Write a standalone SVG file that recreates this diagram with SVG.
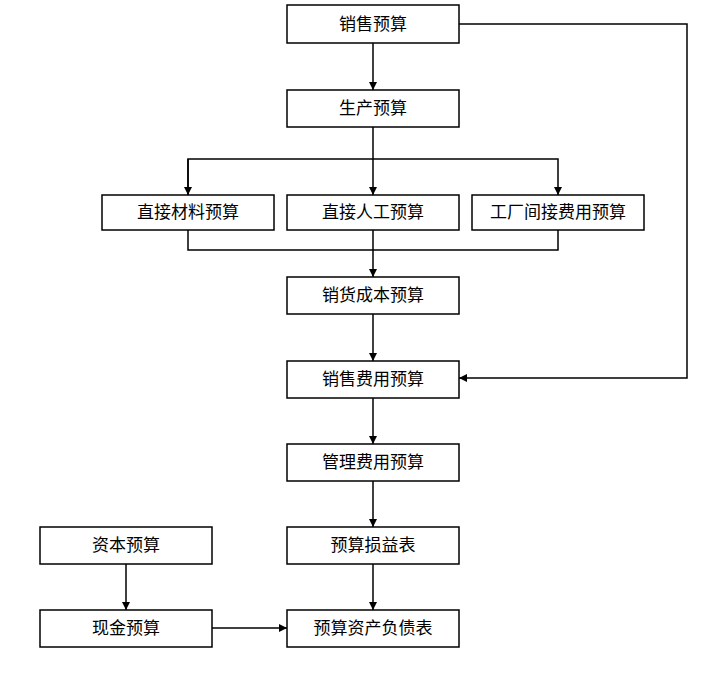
<svg xmlns="http://www.w3.org/2000/svg" width="706" height="674" viewBox="0 0 706 674">
<defs>
<style>
.b{fill:#fff;stroke:#000;stroke-width:1.5}
.t{font-family:"Noto Sans CJK SC","Liberation Sans",sans-serif;font-size:17px;text-anchor:middle;fill:#000}
.l{fill:none;stroke:#000;stroke-width:1.5}
</style>
<marker id="a" viewBox="0 0 10 10" refX="10" refY="5" markerWidth="8" markerHeight="8" orient="auto" markerUnits="userSpaceOnUse"><path d="M0,0 L10,5 L0,10 Z" fill="#000"/></marker>
</defs>
<rect width="706" height="674" fill="#fff"/>
<g id="connectors">
<path class="l" d="M373,43 V90" marker-end="url(#a)"/>
<path class="l" d="M373,127 V195" marker-end="url(#a)"/>
<path class="l" d="M188,195 V159 H558 V195" marker-end="url(#a)"/>
<path class="l" d="M188,159 V195" marker-end="url(#a)"/>
<path class="l" d="M459,24 H687 V378 H459" marker-end="url(#a)"/>
<path class="l" d="M188,230 V250 H558 V230"/>
<path class="l" d="M373,230 V277" marker-end="url(#a)"/>
<path class="l" d="M373,314 V361" marker-end="url(#a)"/>
<path class="l" d="M373,398 V444" marker-end="url(#a)"/>
<path class="l" d="M373,481 V527" marker-end="url(#a)"/>
<path class="l" d="M373,564 V610" marker-end="url(#a)"/>
<path class="l" d="M126,564 V610" marker-end="url(#a)"/>
<path class="l" d="M212,628 H287" marker-end="url(#a)"/>
</g>
<g id="n1"><rect class="b" x="287" y="5" width="172" height="38"/><text class="t" x="373" y="30">销售预算</text></g>
<g id="n2"><rect class="b" x="287" y="90" width="172" height="37"/><text class="t" x="373" y="114">生产预算</text></g>
<g id="n3"><rect class="b" x="102" y="195" width="172" height="35"/><text class="t" x="188" y="218">直接材料预算</text></g>
<g id="n4"><rect class="b" x="287" y="195" width="172" height="35"/><text class="t" x="373" y="218">直接人工预算</text></g>
<g id="n5"><rect class="b" x="472" y="195" width="172" height="35"/><text class="t" x="558" y="218">工厂间接费用预算</text></g>
<g id="n6"><rect class="b" x="287" y="277" width="172" height="37"/><text class="t" x="373" y="301">销货成本预算</text></g>
<g id="n7"><rect class="b" x="287" y="361" width="172" height="37"/><text class="t" x="373" y="385">销售费用预算</text></g>
<g id="n8"><rect class="b" x="287" y="444" width="172" height="37"/><text class="t" x="373" y="468">管理费用预算</text></g>
<g id="n9"><rect class="b" x="287" y="527" width="172" height="37"/><text class="t" x="373" y="551">预算损益表</text></g>
<g id="n10"><rect class="b" x="40" y="527" width="172" height="37"/><text class="t" x="126" y="551">资本预算</text></g>
<g id="n11"><rect class="b" x="40" y="610" width="172" height="37"/><text class="t" x="126" y="634">现金预算</text></g>
<g id="n12"><rect class="b" x="287" y="610" width="172" height="37"/><text class="t" x="373" y="634">预算资产负债表</text></g>
</svg>
